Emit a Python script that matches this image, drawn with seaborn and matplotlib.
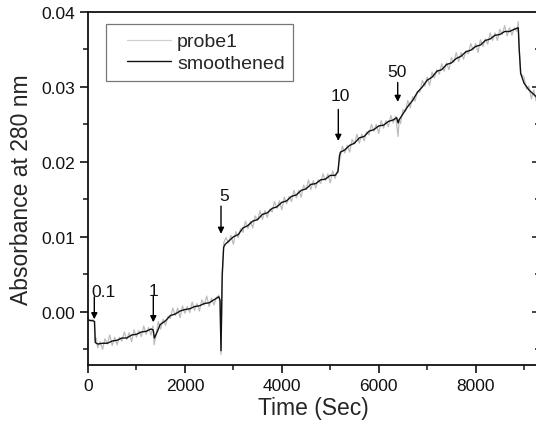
import matplotlib

matplotlib.use("Agg")
import matplotlib.pyplot as plt
import seaborn as sns
from matplotlib.legend_handler import HandlerLine2D
from matplotlib.ticker import FormatStrFormatter, MultipleLocator

# smoothened trace (time in s, absorbance)
smooth_time = [0, 100, 135, 150, 200, 300, 400, 500, 600, 700, 800, 900, 1000, 1100,
               1200, 1300, 1340, 1350, 1370, 1420, 1490, 1600, 1700, 1800, 1900, 2000,
               2100, 2200, 2300, 2400, 2500, 2600, 2700, 2725, 2745, 2770, 2800, 2830,
               2900, 3000, 3100, 3200, 3300, 3400, 3500, 3600, 3700, 3800, 3900, 4000,
               4100, 4200, 4300, 4400, 4500, 4600, 4700, 4800, 4900, 5000, 5100, 5160,
               5190, 5210, 5300, 5400, 5500, 5600, 5700, 5800, 5900, 6000, 6100, 6200,
               6300, 6370, 6400, 6420, 6500, 6600, 6700, 6800, 6900, 7000, 7100, 7200,
               7300, 7400, 7500, 7600, 7700, 7800, 7900, 8000, 8100, 8200, 8300, 8400,
               8500, 8600, 8700, 8800, 8880, 8900, 8930, 9000, 9100, 9200, 9300]
smooth_abs = [-0.0011, -0.0012, -0.0013, -0.0041, -0.0043, -0.0042, -0.0042, -0.0039,
              -0.0038, -0.0035, -0.0035, -0.0031, -0.0030, -0.0027, -0.0026, -0.0023,
              -0.0024, -0.0026, -0.0035, -0.0028, -0.0017, -0.0012, -0.0005, -0.0003,
              0.0001, 0.0003, 0.0004, 0.0007, 0.0008, 0.0011, 0.0012, 0.0016, 0.0020,
              0.0015, -0.0052, 0.0050, 0.0086, 0.0090, 0.0094, 0.0100, 0.0103, 0.0112,
              0.0115, 0.0121, 0.0123, 0.0130, 0.0132, 0.0138, 0.0140, 0.0146, 0.0148,
              0.0154, 0.0156, 0.0162, 0.0164, 0.0170, 0.0171, 0.0176, 0.0177, 0.0182,
              0.0182, 0.0187, 0.0208, 0.0213, 0.0216, 0.0222, 0.0225, 0.0232, 0.0234,
              0.0241, 0.0243, 0.0248, 0.0249, 0.0254, 0.0256, 0.0259, 0.0252, 0.0256,
              0.0264, 0.0274, 0.0282, 0.0293, 0.0300, 0.0309, 0.0313, 0.0321, 0.0323,
              0.0330, 0.0332, 0.0338, 0.0341, 0.0347, 0.0349, 0.0354, 0.0356, 0.0362,
              0.0364, 0.0369, 0.0370, 0.0374, 0.0374, 0.0377, 0.0379, 0.0350, 0.0318,
              0.0305, 0.0296, 0.0290, 0.0284]

# raw probe1 trace (noisy)
raw_time = [0, 50, 100, 130, 145, 170, 200, 250, 300, 350, 400, 450, 500, 550, 600, 650,
            700, 750, 800, 850, 900, 950, 1000, 1050, 1100, 1150, 1200, 1250, 1300, 1340,
            1365, 1400, 1450, 1500, 1550, 1600, 1650, 1700, 1750, 1800, 1850, 1900, 1950,
            2000, 2050, 2100, 2150, 2200, 2250, 2300, 2350, 2400, 2450, 2500, 2550, 2600,
            2650, 2700, 2725, 2745, 2770, 2800, 2850, 2900, 2950, 3000, 3050, 3100, 3150,
            3200, 3250, 3300, 3350, 3400, 3450, 3500, 3550, 3600, 3650, 3700, 3750, 3800,
            3850, 3900, 3950, 4000, 4050, 4100, 4150, 4200, 4250, 4300, 4350, 4400, 4450,
            4500, 4550, 4600, 4650, 4700, 4750, 4800, 4850, 4900, 4950, 5000, 5050, 5100,
            5150, 5180, 5200, 5250, 5300, 5350, 5400, 5450, 5500, 5550, 5600, 5650, 5700,
            5750, 5800, 5850, 5900, 5950, 6000, 6050, 6100, 6150, 6200, 6250, 6300, 6350,
            6400, 6420, 6450, 6500, 6550, 6600, 6650, 6700, 6750, 6800, 6850, 6900, 6950,
            7000, 7050, 7100, 7150, 7200, 7250, 7300, 7350, 7400, 7450, 7500, 7550, 7600,
            7650, 7700, 7750, 7800, 7850, 7900, 7950, 8000, 8050, 8100, 8150, 8200, 8250,
            8300, 8350, 8400, 8450, 8500, 8550, 8600, 8650, 8700, 8750, 8800, 8850, 8880,
            8900, 8930, 9000, 9050, 9100, 9150, 9200, 9250, 9300]
raw_abs = [-0.0009, -0.0013, -0.0010, -0.0014, -0.0038, -0.0035, -0.0048, -0.0040,
           -0.0050, -0.0036, -0.0043, -0.0031, -0.0045, -0.0034, -0.0044, -0.0034,
           -0.0039, -0.0027, -0.0037, -0.0028, -0.0040, -0.0024, -0.0034, -0.0025,
           -0.0033, -0.0019, -0.0030, -0.0021, -0.0031, -0.0019, -0.0044, -0.0033,
           -0.0013, -0.0023, -0.0010, -0.0018, -0.0006, -0.0009, 0.0005, -0.0005,
           0.0005, -0.0008, 0.0008, -0.0002, 0.0007, -0.0001, 0.0013, 0.0002, 0.0011,
           0.0001, 0.0016, 0.0009, 0.0021, 0.0007, 0.0018, 0.0009, 0.0019, 0.0022,
           0.0015, -0.0057, 0.0040, 0.0092, 0.0099, 0.0092, 0.0102, 0.0090, 0.0107,
           0.0099, 0.0111, 0.0106, 0.0121, 0.0111, 0.0121, 0.0112, 0.0128, 0.0122,
           0.0135, 0.0123, 0.0135, 0.0126, 0.0137, 0.0133, 0.0147, 0.0138, 0.0148,
           0.0136, 0.0153, 0.0144, 0.0154, 0.0147, 0.0162, 0.0152, 0.0162, 0.0153,
           0.0169, 0.0163, 0.0176, 0.0163, 0.0175, 0.0165, 0.0176, 0.0171, 0.0184,
           0.0175, 0.0184, 0.0172, 0.0188, 0.0178, 0.0188, 0.0198, 0.0205, 0.0221,
           0.0212, 0.0222, 0.0213, 0.0230, 0.0224, 0.0237, 0.0225, 0.0237, 0.0228,
           0.0240, 0.0236, 0.0250, 0.0241, 0.0250, 0.0238, 0.0255, 0.0245, 0.0255,
           0.0247, 0.0262, 0.0252, 0.0261, 0.0234, 0.0257, 0.0251, 0.0270, 0.0267,
           0.0282, 0.0272, 0.0287, 0.0281, 0.0294, 0.0293, 0.0309, 0.0301, 0.0313,
           0.0302, 0.0320, 0.0312, 0.0323, 0.0317, 0.0331, 0.0321, 0.0332, 0.0323,
           0.0339, 0.0333, 0.0346, 0.0334, 0.0346, 0.0337, 0.0348, 0.0344, 0.0358,
           0.0349, 0.0358, 0.0346, 0.0363, 0.0354, 0.0364, 0.0357, 0.0372, 0.0362,
           0.0372, 0.0362, 0.0377, 0.0370, 0.0382, 0.0368, 0.0379, 0.0369, 0.0379,
           0.0374, 0.0387, 0.0352, 0.0318, 0.0313, 0.0297, 0.0301, 0.0284, 0.0296,
           0.0281, 0.0286]

# additions marked by arrows: label, time, arrow tail, arrow tip, label position
event_labels = ["0.1", "1", "5", "10", "50"]
event_time = [130, 1348, 2745, 5166, 6392]
arrow_tail = [0.0020, 0.0021, 0.0141, 0.0270, 0.0306]
arrow_tip = [-0.0010, -0.0014, 0.0104, 0.0228, 0.0280]
label_time = [330, 1362, 2807, 5201, 6378]
label_abs = [0.0021, 0.0022, 0.0149, 0.0282, 0.0315]

sns.set_theme(style="ticks")
plt.rcParams["font.family"] = ["Liberation Sans", "DejaVu Sans"]

fig = plt.figure(figsize=(5.36, 4.31), dpi=100)
ax = fig.add_axes([88 / 536, 65 / 431, 450.6 / 536, 353 / 431])

sns.lineplot(x=raw_time, y=raw_abs, color="#bdbdbd", linewidth=0.9,
             estimator=None, label="probe1", ax=ax)
sns.lineplot(x=smooth_time, y=smooth_abs, color="#111111", linewidth=1.0,
             estimator=None, label="smoothened", ax=ax)

for lab, t, y0, y1, lt, ly in zip(event_labels, event_time, arrow_tail, arrow_tip,
                                  label_time, label_abs):
    ax.annotate("", xy=(t, y1), xytext=(t, y0),
                arrowprops=dict(arrowstyle="-|>", color="black", lw=1.0,
                                mutation_scale=9, shrinkA=0, shrinkB=0))
    ax.text(lt, ly, lab, ha="center", va="baseline", fontsize=12.5, color="#111111")

ax.set_xlim(0, 9300)
ax.set_ylim(-0.0071, 0.04)
ax.xaxis.set_major_locator(MultipleLocator(2000))
ax.xaxis.set_minor_locator(MultipleLocator(1000))
ax.yaxis.set_major_locator(MultipleLocator(0.01))
ax.yaxis.set_minor_locator(MultipleLocator(0.005))
ax.yaxis.set_major_formatter(FormatStrFormatter("%.2f"))
ax.tick_params(axis="both", which="major", direction="out", length=6, width=1.2,
               labelsize=12.5, colors="#111111")
ax.tick_params(axis="both", which="minor", direction="out", length=3.5, width=1.2)

# twin axis only for the inward ticks on the right edge
twin = ax.twinx()
twin.set_ylim(ax.get_ylim())
twin.yaxis.set_major_locator(MultipleLocator(0.01))
twin.yaxis.set_minor_locator(MultipleLocator(0.005))
twin.tick_params(which="major", direction="in", length=5, width=1.2, labelright=False)
twin.tick_params(which="minor", direction="in", length=3, width=1.2)
for side in twin.spines:
    twin.spines[side].set_visible(False)

for side in ["left", "bottom", "top", "right"]:
    ax.spines[side].set_linewidth(1.3)
    ax.spines[side].set_color("#111111")

ax.set_xlabel("Time (Sec)", fontsize=16.5, labelpad=2)
ax.set_ylabel("Absorbance at 280 nm", fontsize=16.5, labelpad=6)

handles, labels = ax.get_legend_handles_labels()
leg = ax.legend(handles, labels, loc="upper left", bbox_to_anchor=(0.040, 0.966),
                borderaxespad=0, frameon=True, fancybox=False, edgecolor="#555555",
                fontsize=14, handlelength=2.9, handletextpad=0.3, labelspacing=0.2,
                borderpad=0.45,
                handler_map={h: HandlerLine2D(xpad=0.65) for h in handles})
leg.get_frame().set_linewidth(0.9)
leg.legend_handles[0].set_color("#d0d0d0")

fig.savefig("out.png", dpi=100)
